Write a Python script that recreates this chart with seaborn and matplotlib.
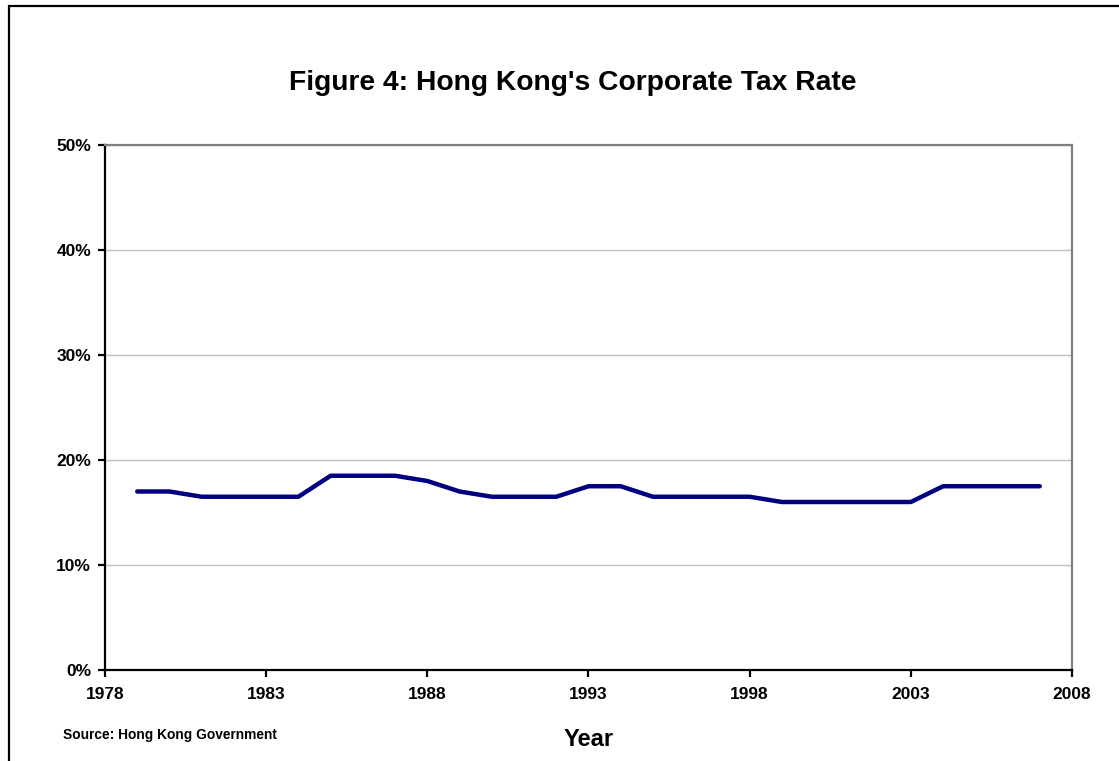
import matplotlib
matplotlib.use("Agg")
import matplotlib.pyplot as plt
from matplotlib.patches import Rectangle
from matplotlib.ticker import PercentFormatter
import seaborn as sns
import pandas as pd

years = list(range(1979, 2008))
tax_rate = [17.0, 17.0, 16.5, 16.5, 16.5, 16.5, 18.5, 18.5, 18.5, 18.0,
            17.0, 16.5, 16.5, 16.5, 17.5, 17.5, 16.5, 16.5, 16.5, 16.5,
            16.0, 16.0, 16.0, 16.0, 16.0, 17.5, 17.5, 17.5, 17.5]
x_ticks = [1978, 1983, 1988, 1993, 1998, 2003, 2008]
y_ticks = [0, 10, 20, 30, 40, 50]

df = pd.DataFrame({"Year": years, "Rate": tax_rate})

sns.set_theme(style="white")
plt.rcParams["font.family"] = ["Liberation Sans", "DejaVu Sans"]
plt.rcParams["text.color"] = "black"
plt.rcParams["axes.labelcolor"] = "black"
plt.rcParams["xtick.color"] = "black"
plt.rcParams["ytick.color"] = "black"

fig = plt.figure(figsize=(11.19, 7.61), dpi=100)
ax = fig.add_axes([105 / 1119, 1 - 670 / 761, (1072 - 105) / 1119, (670 - 145) / 761])

sns.lineplot(data=df, x="Year", y="Rate", ax=ax, color="#000080", linewidth=3.2)

ax.set_xlim(1978, 2008)
ax.set_ylim(0, 50)
ax.set_xticks(x_ticks)
ax.set_yticks(y_ticks)
ax.yaxis.set_major_formatter(PercentFormatter(decimals=0))
ax.grid(axis="y", color="#c0c0c0", linewidth=1.0)
ax.set_axisbelow(True)

for side in ("left", "bottom"):
    ax.spines[side].set_color("black")
    ax.spines[side].set_linewidth(1.6)
for side in ("top", "right"):
    ax.spines[side].set_color("#808080")
    ax.spines[side].set_linewidth(1.6)

ax.tick_params(axis="both", which="major", direction="out", length=5, width=1.6,
               color="black", labelcolor="black", labelsize=12.5,
               bottom=True, left=True)
ax.tick_params(axis="y", pad=5)
ax.tick_params(axis="x", pad=7)
for lbl in ax.get_xticklabels() + ax.get_yticklabels():
    lbl.set_fontweight("bold")

ax.set_xlabel("Year", fontsize=17, fontweight="bold", labelpad=19, color="black")
ax.set_ylabel("")

fig.text(573 / 1119, 1 - 83 / 761, "Figure 4: Hong Kong's Corporate Tax Rate",
         ha="center", va="center", fontsize=20.3, fontweight="bold", color="black")
fig.text(63 / 1119, 1 - 735 / 761, "Source: Hong Kong Government",
         ha="left", va="center", fontsize=9.9, fontweight="bold", color="black")

# outer frame around the chart
fig.patches.append(Rectangle((9 / 1119, -0.05), 1.2, 1 - 5.5 / 761 + 0.05,
                             transform=fig.transFigure, fill=False,
                             edgecolor="black", linewidth=1.6, clip_on=False))

fig.savefig("out.png", dpi=100)
